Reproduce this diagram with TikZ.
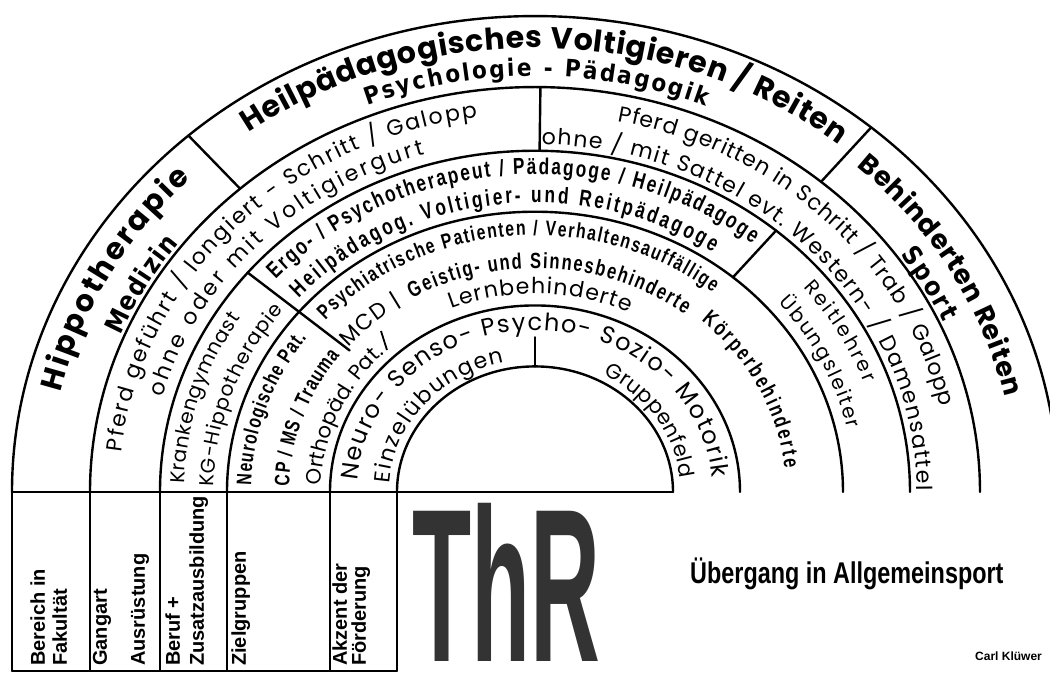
\documentclass[tikz,border=0pt]{standalone}
\usepackage{fontspec}
\usepackage{graphicx}
\usetikzlibrary{decorations.text}
\newfontfamily\thinf{Poppins}
\newfontfamily\hdf{Poppins}
\newfontfamily\condf{Liberation Sans}[FakeStretch=0.75]
\newfontfamily\dvb{DejaVu Sans}[FakeStretch=0.9]
\newfontfamily\tabf{Liberation Sans}
\newcommand\fs[1]{\fontsize{#1}{#1}\selectfont}
% curved text: radius, start angle, end angle, font, text
\newcommand\atext[5]{%
  \path[decorate,decoration={text along path,text align={fit to path},
      text format delimiters={[}{]},text={[#4]#5}}]
    (#2:{#1pt} and {0.91*#1pt}) arc[start angle=#2,end angle=#3,x radius=#1pt,y radius={0.91*#1pt}];}
% radial divider: angle, inner radius, outer radius
\newcommand\rad[3]{\draw[ln] (#1:{#2pt} and {0.91*#2pt}) -- (#1:{#3pt} and {0.91*#3pt});}
\begin{document}
\begin{tikzpicture}[x=1pt,y=1pt,
  ln/.style={line width=2.4pt,line cap=round},
  tab/.style={font=\tabf\bfseries\fs{20},rotate=90,anchor=base west,inner sep=0pt}]
\useasboundingbox (-535,-181) rectangle (515,492);
\fill[white] (-535,-181) rectangle (515,492);
\clip (-535,-181) rectangle (515,492);

% rings
\foreach \r in {523,445,375,308,205,138}
  \draw[ln] (180:{\r pt} and {0.91*\r pt}) arc[start angle=180,end angle=0,x radius=\r pt,y radius={0.91*\r pt}];

% radial dividers
\rad{131.5}{445}{523}
\rad{50}{445}{523}
\rad{89.3}{375}{445}
\rad{140}{242}{375}
\rad{50}{308}{375}
\rad{90}{138}{170}
\draw[line width=1.8pt] (-154,161) -- (-148,142);

% base line and table
\draw[ln] (-523,0) -- (138,0);
\foreach \x in {-523,-445,-375,-308,-205,-138}
  \draw[ln] (\x,0) -- (\x,-179);
\draw[line width=1.2pt] (-523,-179) -- (-138,-179);

% ring 1
\atext{488}{126}{51.5}{\hdf\bfseries\fs{30}}{Heilpädagogisches Voltigieren / Reiten}
\atext{457}{111.5}{68}{\dvb\bfseries\fs{24}}{Psychologie - Pädagogik}
\atext{487}{167}{135}{\hdf\bfseries\fs{30}}{Hippotherapie}
\atext{449}{157.5}{142.5}{\dvb\bfseries\fs{26}}{Medizin}
\atext{481}{48}{12.5}{\hdf\bfseries\fs{27}}{Behinderten Reiten}
\atext{449}{35.5}{24.5}{\dvb\bfseries\fs{26}}{Sport}

% ring 2
\atext{416}{174}{98}{\thinf\fs{22}}{Pferd geführt / longiert - Schritt / Galopp}
\atext{387}{164.5}{106.5}{\thinf\fs{22}}{ohne oder mit Voltigiergurt}
\atext{416}{78.5}{13}{\thinf\fs{22}}{Pferd geritten in Schritt / Trab / Galopp}
\atext{382}{89}{0.3}{\thinf\fs{22}}{ohne / mit Sattel evt. Western- / Damensattel}

% ring 3
\atext{351}{178.5}{147}{\thinf\fs{20}}{Krankengymnast}
\atext{321}{179}{141.5}{\thinf\fs{20}}{KG-Hippotherapie}
\atext{349}{138}{51.5}{\condf\bfseries\fs{23}}{Ergo- / Psychotherapeut / Pädagoge / Heilpädagoge}
\atext{318}{138}{56}{\condf\bfseries\fs{23}}{Heilpädagog. Voltigier- und Reitpädagoge}
\atext{350}{40}{20}{\thinf\fs{20}}{Reitlehrer}
\atext{320}{40.5}{12.5}{\thinf\fs{20}}{Übungsleiter}

% ring 4
\atext{284}{178.5}{143.5}{\condf\bfseries\fs{21}}{Neurologische Pat.}
\atext{246}{178.5}{142.5}{\condf\bfseries\fs{21}}{CP / MS / Trauma}
\atext{214}{178}{135}{\thinf\fs{21}}{Orthopäd. Pat.}
\atext{282}{138}{51}{\condf\bfseries\fs{21}}{Psychiatrische Patienten / Verhaltensauffällige}
\atext{245}{139.5}{123}{\thinf\fs{22}}{MCD |}
\atext{246}{120}{52.5}{\condf\bfseries\fs{22}}{Geistig- und Sinnesbehinderte}
\atext{218}{112.5}{64.5}{\thinf\fs{22}}{Lernbehinderte}
\atext{251}{48.5}{6}{\condf\bfseries\fs{22}}{Körperbehinderte}

% ring 5
\atext{178}{176}{5}{\thinf\fs{24}}{Neuro- Senso- Psycho- Sozio- Motorik}
\atext{146}{176.5}{102}{\thinf\fs{22}}{Einzelübungen}
\atext{146}{62}{6}{\thinf\fs{21}}{Gruppenfeld}

% table labels
\node[tab] (t1) at (-490,-174) {Bereich in};
\node[tab] (t2) at (-468,-174) {Fakultät};
\node[tab] (t3) at (-428,-174) {Gangart};
\node[tab] (t4) at (-390,-174) {Ausrüstung};
\node[tab] (t5) at (-355,-174) {Beruf +};
\node[tab] (t6) at (-331,-174) {Zusatzausbildung};
\node[tab] (t7) at (-289,-174) {Zielgruppen};
\node[tab] (t8) at (-188,-174) {Akzent der};
\node[tab] (t9) at (-169,-174) {Förderung};

% ThR and captions
\node[anchor=south west,inner sep=0pt,text=black!80] (thr) at (-123,-170)
  {\resizebox{188pt}{158pt}{\tabf\bfseries ThR}};
\node[anchor=base west,inner sep=0pt] (ueb) at (155,-91)
  {\scalebox{0.78}[1]{\tabf\bfseries\fs{30}Übergang in Allgemeinsport}};
\node[anchor=base west,inner sep=0pt] (carl) at (440,-168)
  {\tabf\bfseries\fs{12}Carl Klüwer};
\end{tikzpicture}
\end{document}
